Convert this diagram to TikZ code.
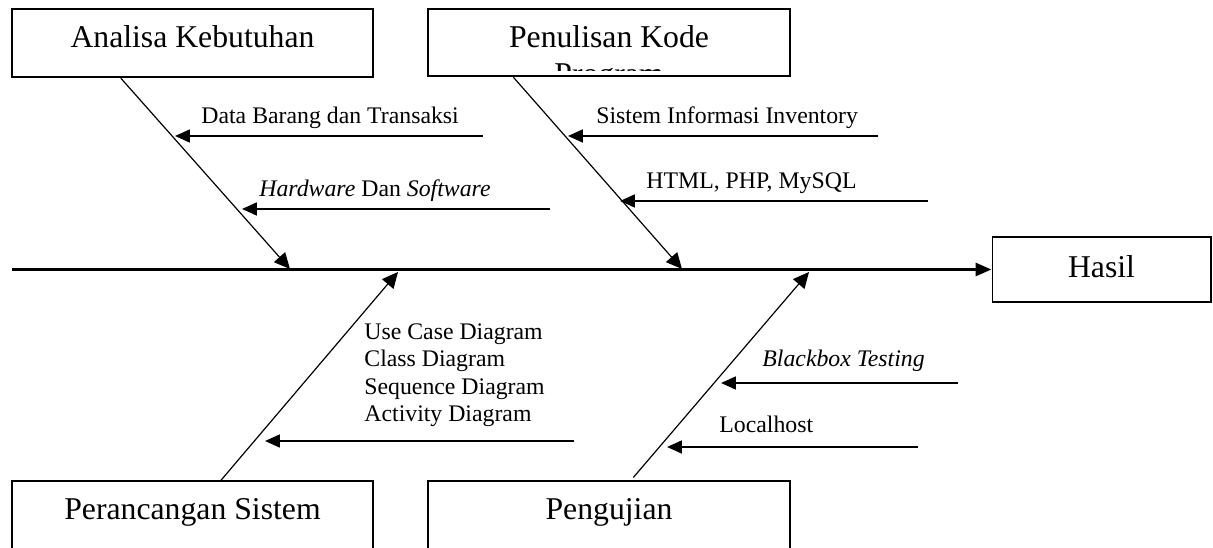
\documentclass[tikz,border=0pt]{standalone}
\usepackage{fontspec}
\setmainfont{Liberation Serif}
\usetikzlibrary{arrows.meta, calc}
\tikzset{
  causebox/.style={
    rectangle, draw, line width=1pt, inner sep=0pt,
    minimum width=182.3pt, text height=19.4pt,
    font=\fontsize{16}{18.4}\selectfont
  },
  bonearrow/.style={-{Triangle[length=8pt, width=7.5pt]}, line width=0.6pt},
  subarrow/.style={-{Triangle[length=7.5pt, width=6.5pt]}, line width=1pt},
  spinearrow/.style={-{Triangle[length=8pt, width=6.5pt]}, line width=1.5pt},
  sublabel/.style={anchor=base west, inner sep=0pt, font=\fontsize{12}{13.9}\selectfont},
}

\begin{document}
\begin{tikzpicture}[x=0.5045pt, y=-0.5045pt]
  \useasboundingbox (0,0) rectangle (1213,548);
  \clip (0,0) rectangle (1213,548);

  % kotak penyebab dan akibat
  \node[causebox, text depth=15.1pt] (kebutuhan) at (192.5,43) {Analisa Kebutuhan};
  \node[causebox, text depth=14.6pt] (kode) at (609,42.5) {Penulisan Kode};
  \node[causebox, text depth=20pt] (rancang) at (192.5,520.5) {Perancangan Sistem};
  \node[causebox, text depth=20pt] (uji) at (609,520.5) {Pengujian};
  \node[causebox, minimum width=110pt, text height=20.2pt, text depth=12.6pt]
       (hasil) at (1101.5,269.5) {Hasil};

  % baris kedua yang terpotong kotak
  \begin{scope}
    \clip (kode.north west) rectangle ($(kode.south east)+(0,-7)$);
    \node[anchor=base, inner sep=0pt, font=\fontsize{16}{18.4}\selectfont]
         (kodeprog) at ($(kode.base)+(0,37)$) {Program};
  \end{scope}

  % tulang utama
  \coordinate (ekor) at (12,269.5);
  \draw[spinearrow] (ekor) -- (hasil.west);

  % tulang penyebab
  \coordinate (t1) at (290,269);
  \coordinate (t2) at (682,269);
  \coordinate (t3) at (398,272);
  \coordinate (t4) at (809,272);
  \draw[bonearrow] ($(kebutuhan.south west)+(110,0)$) -- (t1);
  \draw[bonearrow] ($(kode.south west)+(86,0)$) -- (t2);
  \draw[bonearrow] ($(rancang.north west)+(210,0)$) -- (t3);
  \draw[bonearrow] ($(uji.north west)+(206,-3)$) -- (t4);

  % sub penyebab
  \foreach \nm/\xa/\xb/\yy in {barang/483/175/136, hw/550/242/209,
                               si/878/568/136, html/928/620/201,
                               uml/574/265/441, bb/958/721/383, lh/918/667/447}{
    \coordinate (\nm a) at (\xa,\yy);
    \coordinate (\nm b) at (\xb,\yy);
    \draw[subarrow] (\nm a) -- (\nm b);
  }

  \node[sublabel] (lbarang) at (201,124) {Data Barang dan Transaksi};
  \node[sublabel] (lhw) at (259,197) {\textit{Hardware} Dan \textit{Software}};
  \node[sublabel] (lsi) at (596,124) {Sistem Informasi Inventory};
  \node[sublabel] (lhtml) at (646,189) {HTML, PHP, MySQL};
  \node[sublabel, align=left, anchor=north west] (luml) at (364,323)
       {Use Case Diagram\\Class Diagram\\Sequence Diagram\\Activity Diagram};
  \node[sublabel] (lbb) at (762,367) {\textit{Blackbox Testing}};
  \node[sublabel] (llh) at (719,432) {Localhost};
\end{tikzpicture}
\end{document}
